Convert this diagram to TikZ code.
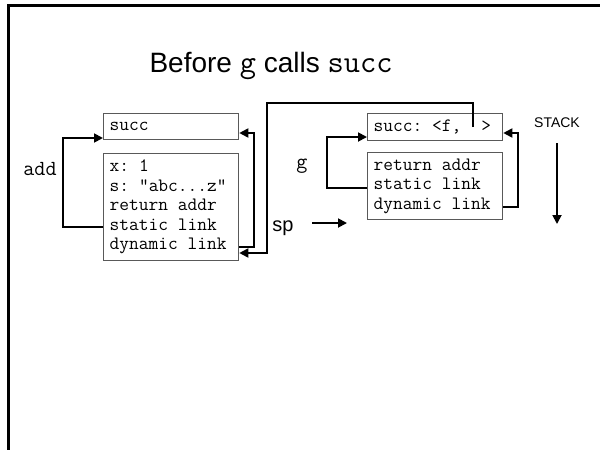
\documentclass[tikz,border=0pt]{standalone}
\usepackage{fontspec}
\setmainfont{Liberation Sans}
% typewriter text with a fixed, full-width word space
\newcommand\cour{\ttfamily}
\newcommand\ws{\hbox to 0.525em{}}
\usetikzlibrary{arrows.meta}
\begin{document}
\begin{tikzpicture}[x=1pt,y=-1pt]
\tikzset{
  framebox/.style={draw=black!65, line width=1.3pt, minimum width=135pt,
    anchor=north west, inner xsep=6pt, inner ysep=0pt, text width=123pt,
    align=left, font=\cour\fontsize{18.9}{19.5}\selectfont},
  arr/.style={line width=1.8pt, line join=miter,
    -{Triangle[length=9pt,width=9pt]}},
  monolabel/.style={anchor=base, inner sep=0pt, font=\cour\fontsize{21.5}{21.5}\selectfont},
  sanslabel/.style={anchor=base, inner sep=0pt},
}
\useasboundingbox (0,0) rectangle (600,450);

% slide frame
\draw[line width=3pt] (8,450) -- (8,5) -- (600,5);

% title
\node[sanslabel, font=\fontsize{28}{28}\selectfont] (title) at (271,72)
  {Before {\cour\fontsize{31.5}{31.5}\selectfont g} calls {\cour\fontsize{31.5}{31.5}\selectfont succ}};

% frame of add
\node[framebox, minimum height=26pt] (lsucc) at (103,113) {succ};
\node[framebox, minimum height=107pt] (lbig) at (103,153)
  {x:\ws1\\s:\ws"abc...z"\\return\ws addr\\static\ws link\\dynamic\ws link};

% frame of g
\node[framebox, minimum height=27pt] (rsucc) at (367,113) {succ:\ws<f,\ws\ws>};
\node[framebox, minimum height=67pt] (rret) at (367,152)
  {return\ws addr\\static\ws link\\dynamic\ws link};

% labels
\node[monolabel] (add) at (40,175) {add};
\node[monolabel] (g) at (302,168) {g};
\node[sanslabel, font=\fontsize{20}{20}\selectfont] (sp) at (283,231) {sp};
\node[sanslabel, font=\fontsize{14}{14}\selectfont] (stack) at (557,127) {STACK};

% link attachment points
\coordinate (lsucc-w) at (lsucc.west |- 0,138);
\coordinate (lsucc-e) at (lsucc.east |- 0,133);
\coordinate (lbig-sl) at (lbig.west |- 0,227);
\coordinate (lbig-dl) at (lbig.east |- 0,247);
\coordinate (lbig-se) at (lbig.east |- 0,253);
\coordinate (clos) at (473,127);
\coordinate (rsucc-w) at (rsucc.west |- 0,137);
\coordinate (rsucc-e) at (rsucc.east |- 0,133);
\coordinate (rret-sl) at (rret.west |- 0,188);
\coordinate (rret-dl) at (rret.east |- 0,207);
\coordinate (sp-from) at (312,223);
\coordinate (sp-to) at (347,223);
\coordinate (stack-from) at (557,143);
\coordinate (stack-to) at (557,224);

% links
\draw[arr] (lbig-sl) -- ++(-40,0) |- (lsucc-w);
\draw[arr] (lbig-dl) -- ++(15,0) |- (lsucc-e);
\draw[arr] (clos) -- ++(0,-24) -| ++(-206,150) -- (lbig-se);
\draw[arr] (rret-sl) -- ++(-40,0) |- (rsucc-w);
\draw[arr] (rret-dl) -- ++(15,0) |- (rsucc-e);
\draw[arr] (sp-from) -- (sp-to);
\draw[arr] (stack-from) -- (stack-to);
\end{tikzpicture}
\end{document}
